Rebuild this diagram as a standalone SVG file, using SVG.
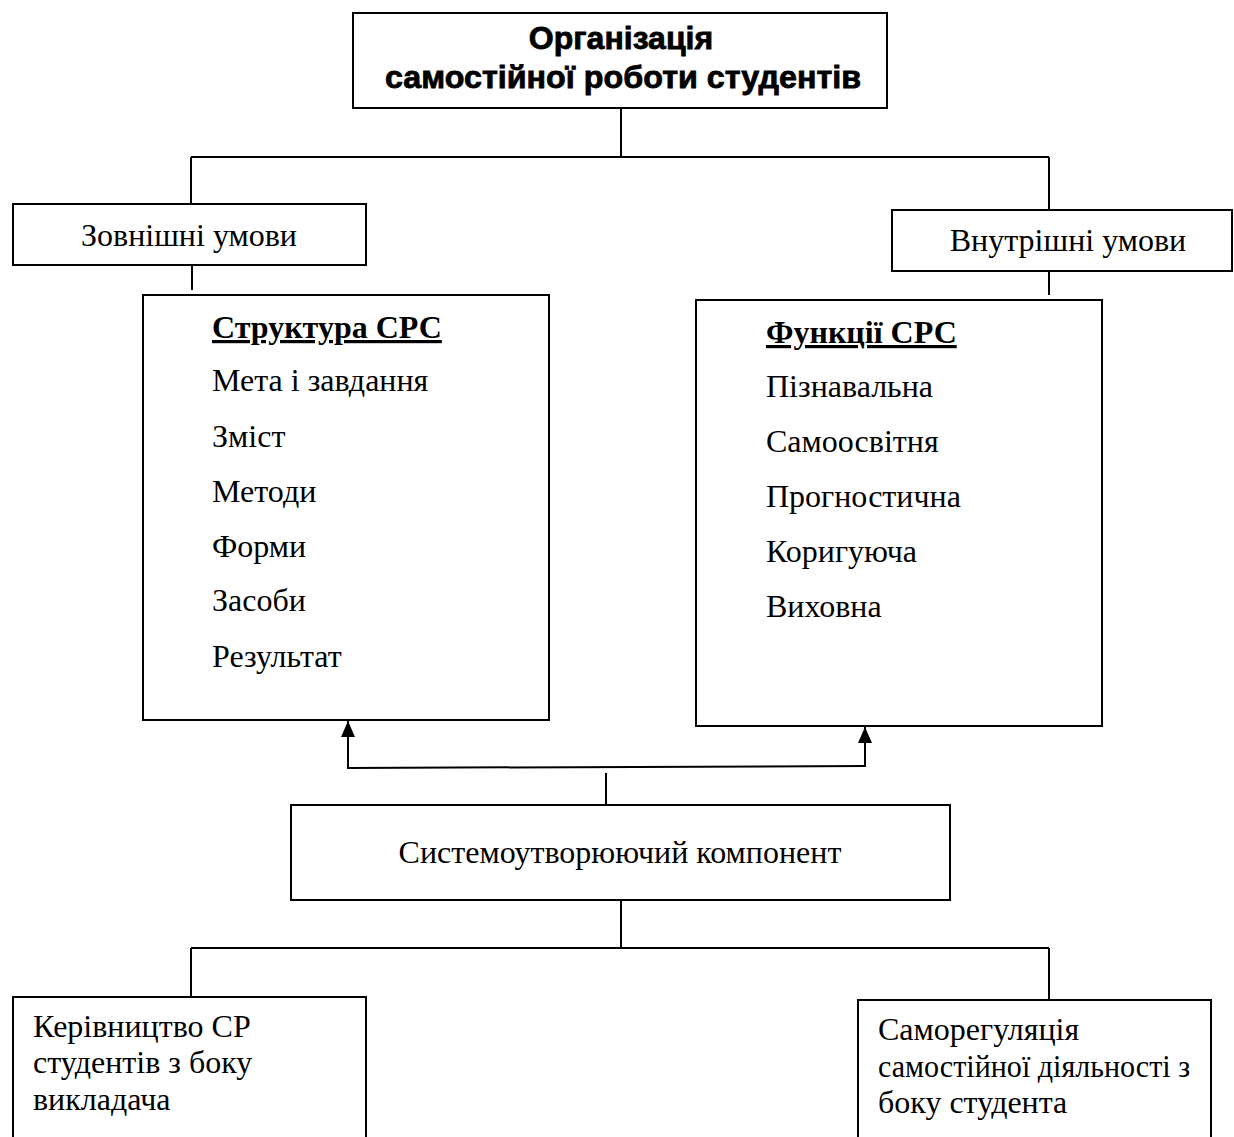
<svg xmlns="http://www.w3.org/2000/svg" width="1234" height="1137" viewBox="0 0 1234 1137">
<style>
.box{fill:#fff;stroke:#000;stroke-width:2}
.ln{fill:none;stroke:#000;stroke-width:2}
.t{font-family:"Liberation Serif","Times New Roman",serif;font-size:32px;fill:#000}
.tb{font-family:"Liberation Serif","Times New Roman",serif;font-size:32px;font-weight:bold;text-decoration:underline;fill:#000}
.ti{font-family:"Liberation Sans",Arial,sans-serif;font-size:32px;font-weight:bold;fill:#000;stroke:#000;stroke-width:0.8}
</style>
<defs>
<marker id="ah" viewBox="0 0 16 14" refX="16" refY="7" markerWidth="16" markerHeight="14" markerUnits="userSpaceOnUse" orient="auto">
<path d="M0,0 L16,7 L0,14 Z" fill="#000"/>
</marker>
</defs>
<rect width="1234" height="1137" fill="#fff"/>
<g id="connectors">
<path class="ln" d="M621,108 V157 M191,157 H1049 M191,157 V203 M1049,157 V210"/>
<path class="ln" d="M192,265 V290 M1049,271 V295"/>
<path class="ln" d="M348,768 L865,766"/>
<path class="ln" d="M348,769 V721" marker-end="url(#ah)"/>
<path class="ln" d="M865,767 V727" marker-end="url(#ah)"/>
<path class="ln" d="M606,773 V805"/>
<path class="ln" d="M621,900 V948 M191,948 H1049 M191,948 V997 M1049,948 V1000"/>
</g>
<g id="n-title">
<rect class="box" x="353" y="13" width="534" height="95"/>
<text class="ti" x="621" y="49" text-anchor="middle">Організація</text>
<text class="ti" x="623" y="88" text-anchor="middle" textLength="476" lengthAdjust="spacingAndGlyphs">самостійної роботи студентів</text>
</g>
<g id="n-external">
<rect class="box" x="13" y="204" width="353" height="61"/>
<text class="t" x="189" y="246" text-anchor="middle">Зовнішні умови</text>
</g>
<g id="n-internal">
<rect class="box" x="892" y="210" width="340" height="61"/>
<text class="t" x="1068" y="251" text-anchor="middle">Внутрішні умови</text>
</g>
<g id="n-structure">
<rect class="box" x="143" y="295" width="406" height="425"/>
<text class="tb" x="212" y="338">Структура СРС</text>
<text class="t" x="212" y="391">Мета і завдання</text>
<text class="t" x="212" y="447">Зміст</text>
<text class="t" x="212" y="502">Методи</text>
<text class="t" x="212" y="557">Форми</text>
<text class="t" x="212" y="611">Засоби</text>
<text class="t" x="212" y="667">Результат</text>
</g>
<g id="n-functions">
<rect class="box" x="696" y="300" width="406" height="426"/>
<text class="tb" x="766" y="343">Функції СРС</text>
<text class="t" x="766" y="397">Пізнавальна</text>
<text class="t" x="766" y="452">Самоосвітня</text>
<text class="t" x="766" y="507">Прогностична</text>
<text class="t" x="766" y="562">Коригуюча</text>
<text class="t" x="766" y="617">Виховна</text>
</g>
<g id="n-system">
<rect class="box" x="291" y="805" width="659" height="95"/>
<text class="t" x="620" y="863" text-anchor="middle">Системоутворюючий компонент</text>
</g>
<g id="n-teacher">
<rect class="box" x="13" y="997" width="353" height="150"/>
<text class="t" x="33" y="1037">Керівництво СР</text>
<text class="t" x="33" y="1073">студентів з боку</text>
<text class="t" x="33" y="1110">викладача</text>
</g>
<g id="n-student">
<rect class="box" x="858" y="1000" width="353" height="150"/>
<text class="t" x="878" y="1040">Саморегуляція</text>
<text class="t" x="878" y="1077" textLength="312" lengthAdjust="spacingAndGlyphs">самостійної діяльності з</text>
<text class="t" x="878" y="1113">боку студента</text>
</g>
</svg>
